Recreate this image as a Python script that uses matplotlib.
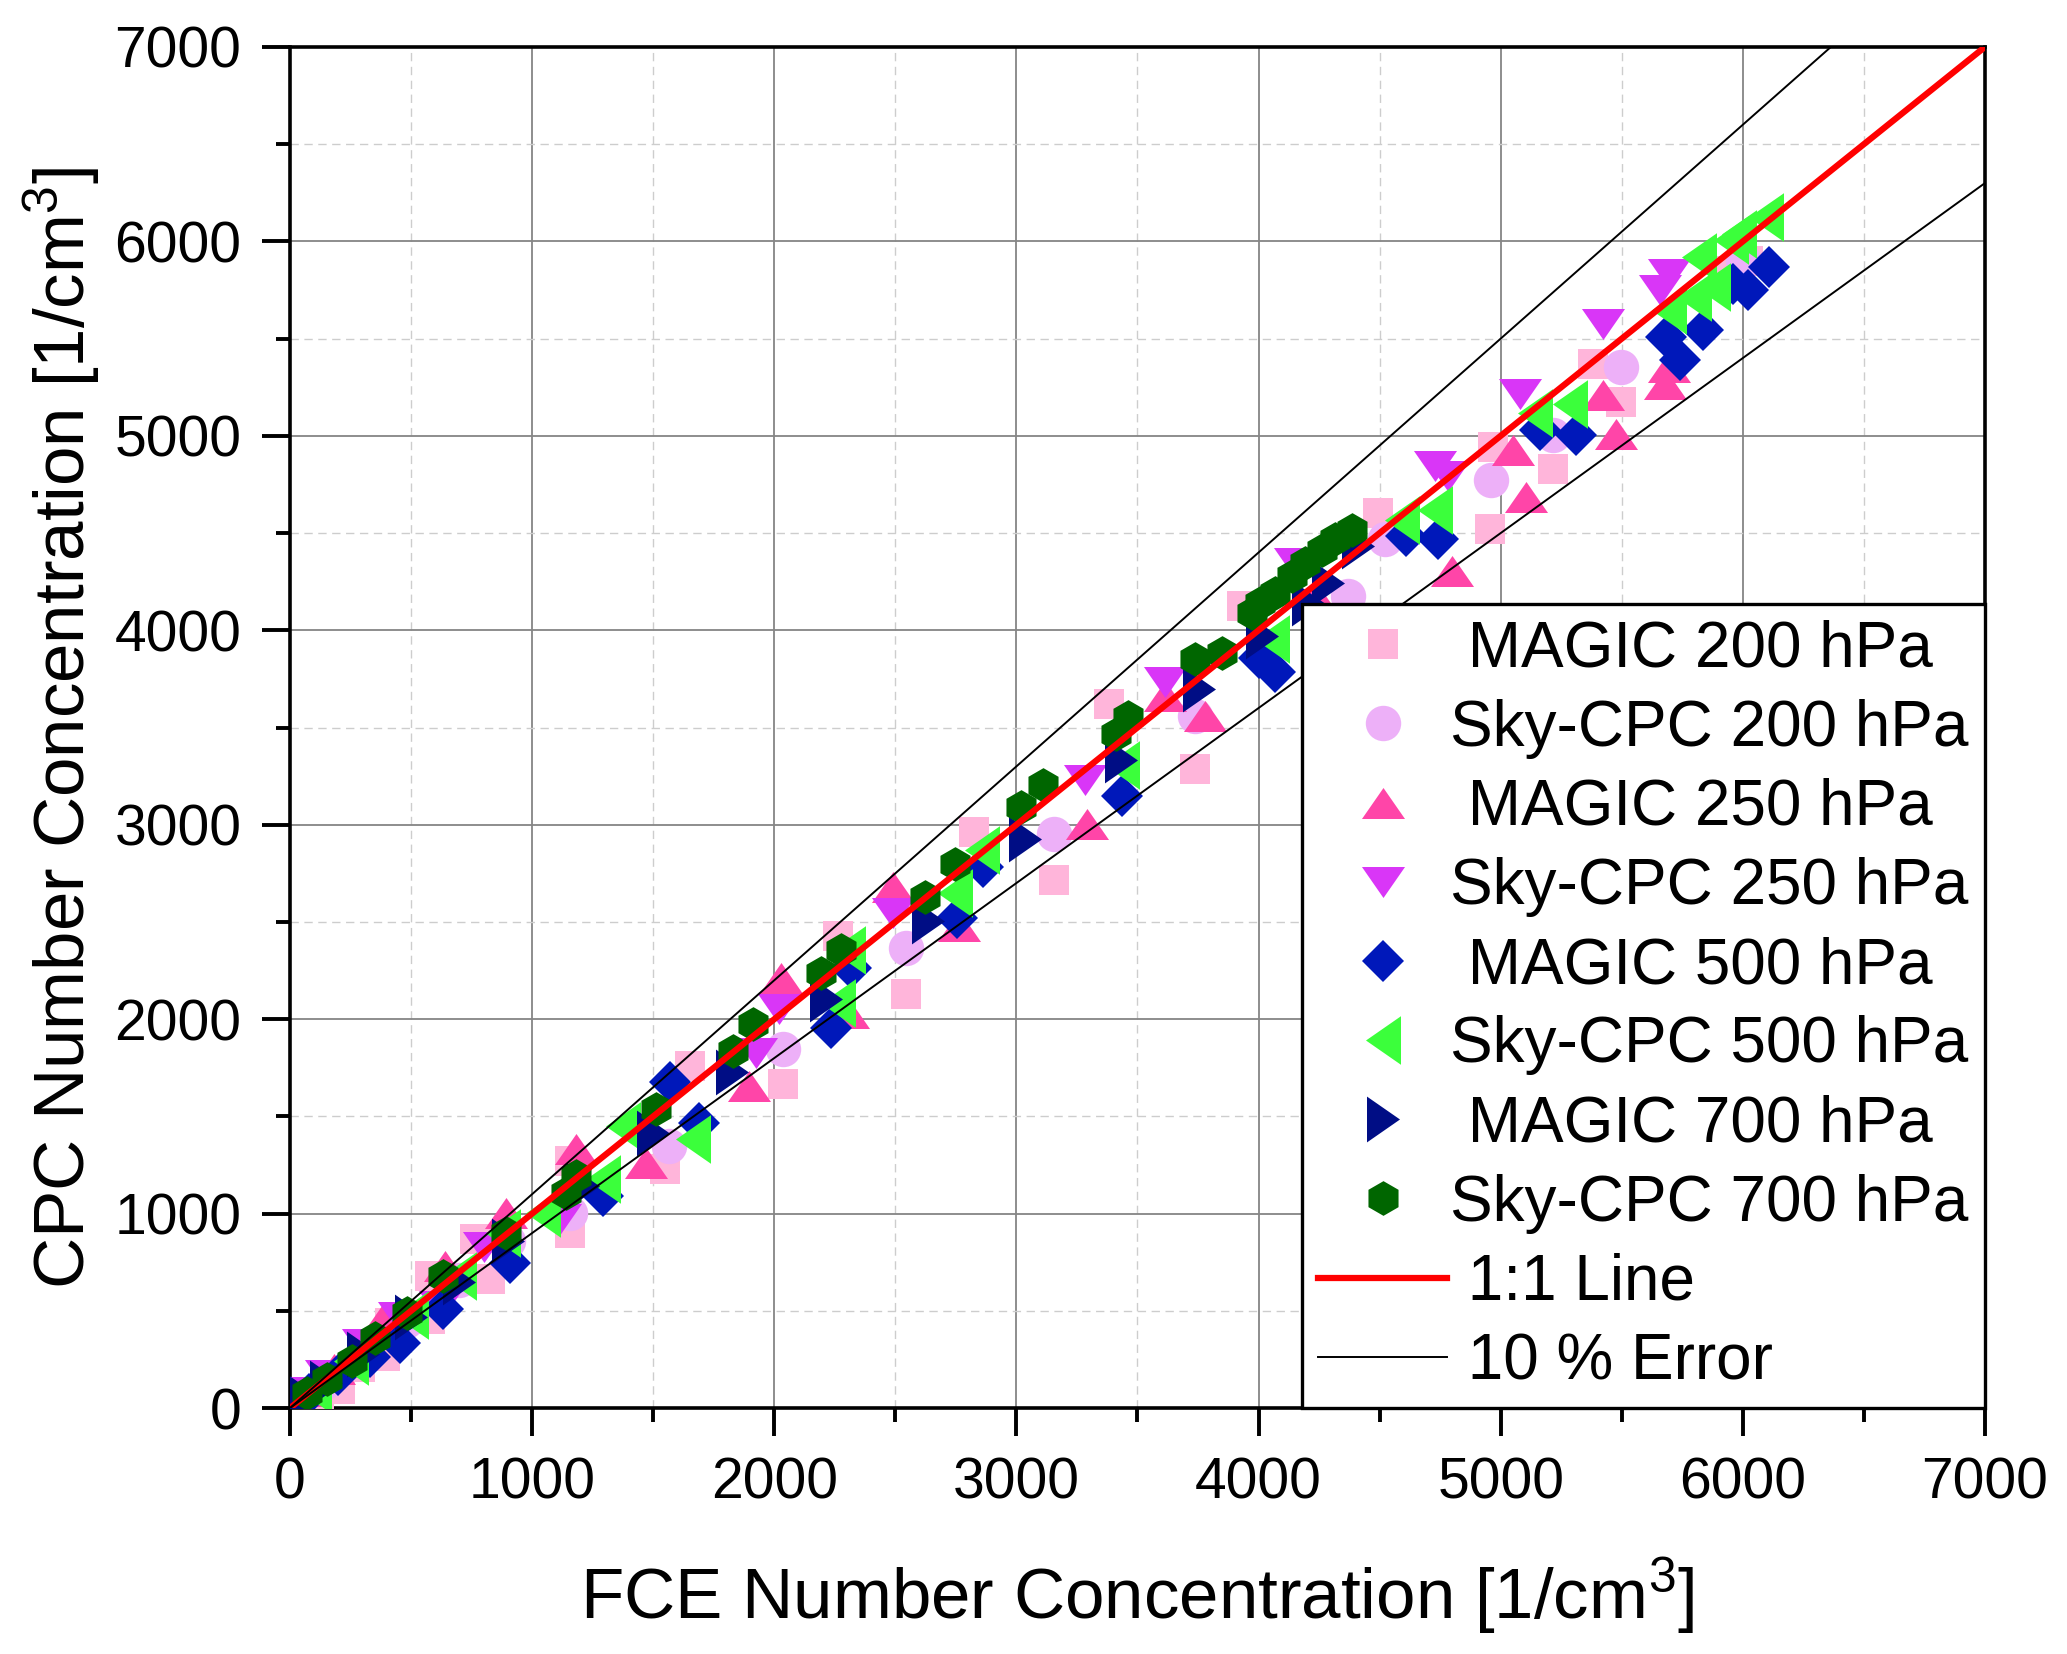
import matplotlib
matplotlib.use('Agg')
import matplotlib.pyplot as plt
from matplotlib.ticker import MultipleLocator

plt.rcParams['font.family'] = 'Liberation Sans'
plt.rcParams['mathtext.fontset'] = 'custom'
plt.rcParams['mathtext.rm'] = 'Liberation Sans'
plt.rcParams['mathtext.it'] = 'Liberation Sans:italic'

# ---- data (FCE vs CPC number concentration, 1/cm3) ----
magic200_x = [50, 120, 207, 290, 393, 414, 578, 578, 764, 826, 1155, 1155, 1547, 1650, 2035, 2263,
              2546, 2823, 3155, 3383, 3739, 3931, 4495, 4955, 4970, 5216, 5381, 5498, 5950, 6020]
magic200_y = [30, 60, 96, 210, 268, 439, 456, 679, 868, 662, 902, 1271, 1228, 1760, 1668, 2426,
              2128, 2963, 2716, 3620, 3287, 4125, 4603, 4520, 4944, 4832, 5372, 5175, 5850, 5900]

sky200_x = [150, 300, 480, 700, 900, 1155, 1567, 2035, 2546, 3155, 3739, 4371, 4522, 4961, 5216, 5498, 6000]
sky200_y = [140, 280, 450, 660, 860, 1005, 1348, 1847, 2366, 2954, 3561, 4176, 4467, 4772, 5003, 5354, 5902]

magic250_x = [80, 180, 386, 640, 894, 1183, 1471, 1897, 2028, 2304, 2491, 2761, 3293, 3615, 3780,
              4233, 4797, 5051, 5106, 5422, 5477, 5677, 5697]
magic250_y = [90, 200, 456, 731, 1005, 1331, 1262, 1657, 2213, 2034, 2681, 2477, 3005, 3663, 3561,
              4176, 4304, 4926, 4687, 5209, 5012, 5269, 5354]

sky250_x = [60, 150, 300, 450, 620, 800, 1114, 1925, 2021, 2491, 3283, 3615, 4151, 4728, 4783,
            5078, 5422, 5656, 5697]
sky250_y = [80, 170, 330, 470, 525, 830, 971, 1828, 2051, 2545, 3230, 3732, 4347, 4843, 4791,
            5217, 5577, 5748, 5834]

magic500_x = [80, 200, 330, 455, 633, 908, 1293, 1571, 1691, 2235, 2318, 2754, 2864, 3438, 4000,
              4069, 4611, 4742, 5161, 5312, 5684, 5739, 5835, 5959, 6021, 6110]
magic500_y = [70, 170, 260, 336, 508, 748, 1091, 1676, 1468, 1957, 2264, 2520, 2784, 3150, 3860,
              3783, 4484, 4467, 5029, 5003, 5509, 5389, 5543, 5783, 5748, 5868]

sky500_x = [100, 250, 500, 700, 880, 1045, 1293, 1375, 1663, 2263, 2304, 2747, 2858, 3438, 4055,
            4591, 4728, 5140, 5285, 5697, 5800, 5821, 5876, 5952, 5986, 6096]
sky500_y = [100, 240, 480, 680, 900, 1005, 1177, 1451, 1382, 2085, 2358, 2647, 2869, 3305, 3954,
            4569, 4621, 5115, 5166, 5646, 5714, 5920, 5765, 6005, 6039, 6125]

magic700_x = [60, 150, 300, 500, 700, 900, 1210, 1499, 1827, 2214, 2636, 3037, 3430, 3753, 4014,
              4206, 4288, 4412]
magic700_y = [50, 130, 280, 470, 650, 860, 1142, 1417, 1727, 2102, 2503, 2928, 3333, 3697, 3971,
              4142, 4244, 4433]

sky700_x = [70, 153, 256, 352, 482, 633, 894, 1141, 1183, 1512, 1828, 1914, 2194, 2277, 2622,
            2747, 3017, 3110, 3411, 3460, 3739, 3849, 3973, 4007, 4069, 4137, 4192, 4261, 4316, 4385]
sky700_y = [79, 148, 242, 362, 491, 679, 902, 1108, 1194, 1537, 1837, 1975, 2239, 2358, 2630,
            2800, 3090, 3205, 3465, 3555, 3851, 3885, 4091, 4142, 4193, 4279, 4347, 4415, 4467, 4518]

labels = [' MAGIC 200 hPa', 'Sky-CPC 200 hPa', ' MAGIC 250 hPa', 'Sky-CPC 250 hPa',
          ' MAGIC 500 hPa', 'Sky-CPC 500 hPa', ' MAGIC 700 hPa', 'Sky-CPC 700 hPa']
line_x = [0, 7000]
err_frac = 0.10

# marker shapes (Origin style: wide up/down triangles, tall left/right triangles)
tri_up = [(-1, -0.72), (1, -0.72), (0, 0.72)]
tri_down = [(-1, 0.72), (1, 0.72), (0, -0.72)]
tri_left = [(0.72, -1), (0.72, 1), (-0.72, 0)]
tri_right = [(-0.72, -1), (-0.72, 1), (0.72, 0)]

series = [
    (magic200_x, magic200_y, 's', 22, '#FFB5DA'),
    (sky200_x, sky200_y, 'o', 25.5, '#EDB0F8'),
    (magic250_x, magic250_y, tri_up, 31, '#FF45A8'),
    (sky250_x, sky250_y, tri_down, 31, '#D936F7'),
    (magic500_x, magic500_y, 'D', 21, '#0018BA'),
    (sky500_x, sky500_y, tri_left, 35, '#3BFF3B'),
    (magic700_x, magic700_y, tri_right, 33, '#000D85'),
    (sky700_x, sky700_y, 'h', 25, '#006600'),
]

fig = plt.figure(figsize=(20.67, 16.54), dpi=100)
ax = fig.add_axes([0.1403, 0.1487, 0.82, 0.8229])

for (xs, ys, mk, ms, col), lab in zip(series, labels):
    ax.plot(xs, ys, linestyle='none', marker=mk, markersize=ms, color=col,
            markeredgewidth=0, label=lab, zorder=3)

ax.plot(line_x, line_x, color='#FF0000', lw=4.5, label=' 1:1 Line', zorder=5)
ax.plot(line_x, [v * (1 + err_frac) for v in line_x], color='black', lw=1.4,
        label=' 10 % Error', zorder=5)
ax.plot(line_x, [v * (1 - err_frac) for v in line_x], color='black', lw=1.4, zorder=5)

ax.set_xlim(0, 7000)
ax.set_ylim(0, 7000)
ax.xaxis.set_major_locator(MultipleLocator(1000))
ax.yaxis.set_major_locator(MultipleLocator(1000))
ax.xaxis.set_minor_locator(MultipleLocator(500))
ax.yaxis.set_minor_locator(MultipleLocator(500))

ax.grid(which='major', color='#858585', lw=1.3, linestyle='-', zorder=0)
ax.grid(which='minor', color='#cdcdcd', lw=1.0, linestyle=(0, (6, 4)), zorder=0)
ax.set_axisbelow(True)

ax.tick_params(which='major', direction='out', length=20, width=2.8, labelsize=41, pad=15,
               top=False, right=False)
ax.tick_params(which='minor', direction='out', length=10, width=2.8, top=False, right=False)
for sp in ax.spines.values():
    sp.set_linewidth(2.6)

ax.set_xlabel('FCE Number Concentration [1/cm$^{3}$]', fontsize=51, labelpad=32)
ax.set_ylabel('CPC Number Concentration [1/cm$^{3}$]', fontsize=51, labelpad=9)

leg = ax.legend(loc='lower right', bbox_to_anchor=(1, 0), borderaxespad=0, fontsize=46,
                frameon=True, fancybox=False, edgecolor='black', framealpha=1,
                borderpad=0.25, handlelength=2.02, handletextpad=0.05, labelspacing=0.30,
                numpoints=1)
leg.get_frame().set_linewidth(2.4)
leg.set_zorder(10)

fig.savefig('out.png', dpi=100)
